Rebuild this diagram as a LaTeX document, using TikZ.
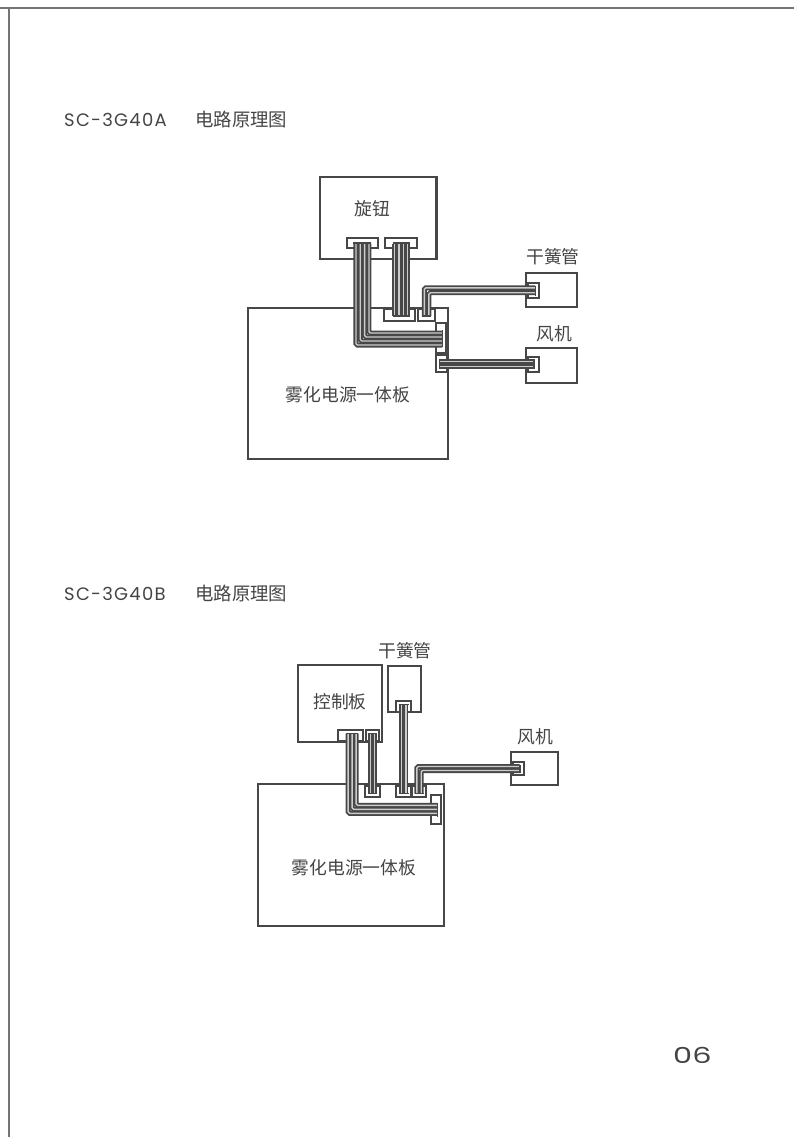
\documentclass[tikz,border=0pt]{standalone}
\usepackage{fontspec}
\usepackage{graphicx}
\setmainfont{Noto Sans CJK SC}
\newfontfamily\latinf[LetterSpace=7]{Poppins}
\newfontfamily\pagef{Poppins}
\usetikzlibrary{calc}
\definecolor{ink}{HTML}{474747}
\definecolor{frame}{HTML}{747474}
\definecolor{txt}{HTML}{444444}
\tikzset{
  boxs/.style={draw=ink,line width=2.4pt,fill=white,inner sep=0pt,outer sep=0pt},
  plug/.style={draw=ink,line width=2pt,fill=white,inner sep=0pt,outer sep=0pt},
  wire/.style={draw=ink,line width=1.8pt,double=gray!40,double distance=1.4pt,rounded corners=1.5pt},
  head/.style={draw=ink,line width=1.6pt},
  lbl/.style={font=\fontsize{17.8}{18}\selectfont,text=txt,inner sep=0pt},
  captxt/.style={font=\fontsize{18.4}{18}\selectfont,text=txt,inner sep=0pt,anchor=west},
}
\newcommand{\bx}[6][boxs]{%
  \pgfmathsetmacro{\bw}{#5-#3}\pgfmathsetmacro{\bh}{#6-#4}%
  \pgfmathsetmacro{\cxx}{(#3+#5)/2}\pgfmathsetmacro{\cyy}{(#4+#6)/2}%
  \node[#1,minimum width=\bw pt,minimum height=\bh pt] (#2) at (\cxx,\cyy) {};}
\begin{document}
\begin{tikzpicture}[x=1pt,y=-1pt]
\useasboundingbox (0,0) rectangle (794,1137);
% page frame
\coordinate (fa) at (0,8.5); \coordinate (fb) at (794,8.5);
\coordinate (fc) at (9,8.5); \coordinate (fd) at (9,1137);
\draw[frame,line width=2pt] (fa) -- (fb);
\draw[frame,line width=2pt] (fc) -- (fd);
% captions
\node[captxt] (capA) at (64,119) {\makebox[131pt][l]{\fontsize{18}{18}\latinf SC-3G40A}电路原理图};
\node[captxt] (capB) at (64,593) {\makebox[131pt][l]{\fontsize{18}{18}\latinf SC-3G40B}电路原理图};
\node[anchor=west,inner sep=0pt,text=txt,font=\fontsize{22}{22}\selectfont] (page) at (673,1055) {\scalebox{1.38}[1]{\pagef 06}};
% ---------- diagram A
\bx{knob}{320}{177}{436.5}{259}
\bx{boardA}{248}{308}{448}{459}
\bx{reedA}{526}{273}{577}{307}
\bx{fanA}{526}{348}{577}{383}
\bx[plug]{knobL}{346.7}{238}{378}{248}
\bx[plug]{knobR}{385}{238}{417}{248}
\bx[plug]{aB}{384}{309}{415}{321}
\bx[plug]{aC}{418}{309}{435}{321}
\bx[plug]{aR}{436}{323}{446}{353}
\bx[plug]{aS}{436}{355}{447}{372}
\bx[plug]{aReed}{528}{283}{539}{298}
\bx[plug]{aFan}{528}{357}{538.5}{372}
\foreach \dx/\dy in {-6.4/7,-2.1/3,2.2/-1,6.6/-5}
  \draw[wire] ($(knobL.center)+(\dx,0.5)$) |- ($(aR.center)+(1,\dy)$);
\foreach \dx in {-6.4,-2.1,2.2,6.6}
  \draw[wire] ($(knobR.center)+(\dx,0.5)$) -- ($(aB.center)+(\dx+1.5,1)$);
\foreach \dx/\dy in {-2.2/-2.7,2.4/2.2}
  \draw[wire] ($(aC.center)+(\dx,1)$) |- ($(aReed.center)+(1.5,\dy)$);
\foreach \dy in {-2.3,2.7}
  \draw[wire] ($(aS.center)+(-1.5,\dy)$) -- ($(aFan.center)+(0.5,\dy-1)$);
\draw[head] ($(knobL.center)+(-9,0)$) -- ($(knobL.center)+(8.4,0)$);
\draw[head] ($(knobR.center)+(-8.5,0)$) -- ($(knobR.center)+(8.5,0)$);
\draw[head] ($(aB.center)+(-6.8,1)$) -- ($(aB.center)+(10.5,1)$);
\draw[head] ($(aC.center)+(-4.5,1)$) -- ($(aC.center)+(4.5,1)$);
\draw[head] ($(aR.center)+(1.5,-8)$) -- ($(aR.center)+(1.5,9)$);
\draw[head] ($(aS.center)+(-2,-5)$) -- ($(aS.center)+(-2,5)$);
\draw[head] ($(aReed.center)+(2,-5)$) -- ($(aReed.center)+(2,5)$);
\draw[head] ($(aFan.center)+(1,-6)$) -- ($(aFan.center)+(1,4.5)$);
\node[lbl] (tKnob) at (372,209) {旋钮};
\node[lbl] (tReedA) at (553,257) {干簧管};
\node[lbl] (tFanA) at (554,334) {风机};
\node[lbl] (tBoardA) at (348,395) {雾化电源一体板};
% ---------- diagram B
\bx{ctrl}{298}{665}{382}{742}
\bx{reedB}{388}{666}{421}{712}
\bx{fanB}{511}{752}{558}{785}
\bx{boardB}{258}{784}{444}{926}
\bx[plug]{cL}{338}{730}{363}{741}
\bx[plug]{cR}{366}{730}{379}{741}
\bx[plug]{bA}{365}{786}{380}{797}
\bx[plug]{bB}{396}{786}{411}{797}
\bx[plug]{bC}{412}{786}{426}{797}
\bx[plug]{bR}{431}{795}{441}{824}
\bx[plug]{rP}{396}{701}{411}{712}
\bx[plug]{fP}{513}{762}{524}{775}
\foreach \dx/\dy in {-2.4/3.8,1.6/-0.2,5.6/-4.2}
  \draw[wire] ($(cL.center)+(\dx,-2)$) |- ($(bR.center)+(1,\dy)$);
\foreach \dx in {-2.2,2.2}
  \draw[wire] ($(cR.center)+(\dx,-2)$) -- ($(bA.center)+(\dx,2)$);
\foreach \dx in {-2.3,2.3}
  \draw[wire] ($(rP.center)+(\dx,-2)$) -- ($(bB.center)+(\dx,2)$);
\foreach \dx/\dy in {-2.2/-2,2.2/2}
  \draw[wire] ($(bC.center)+(\dx,2)$) |- ($(fP.center)+(1,\dy)$);
\draw[head] ($(cL.center)+(-4.5,-2)$) -- ($(cL.center)+(7.5,-2)$);
\draw[head] ($(cR.center)+(-4.5,-2)$) -- ($(cR.center)+(4.5,-2)$);
\draw[head] ($(rP.center)+(-5,-2)$) -- ($(rP.center)+(5,-2)$);
\draw[head] ($(bA.center)+(-4.5,2)$) -- ($(bA.center)+(4.5,2)$);
\draw[head] ($(bB.center)+(-5,2)$) -- ($(bB.center)+(5,2)$);
\draw[head] ($(bC.center)+(-4.5,2)$) -- ($(bC.center)+(4.5,2)$);
\draw[head] ($(bR.center)+(1.5,-7)$) -- ($(bR.center)+(1.5,7)$);
\draw[head] ($(fP.center)+(1.5,-4)$) -- ($(fP.center)+(1.5,4)$);
\node[lbl] (tCtrl) at (340,702) {控制板};
\node[lbl] (tReedB) at (405,651) {干簧管};
\node[lbl] (tFanB) at (535,737) {风机};
\node[lbl] (tBoardB) at (354,868) {雾化电源一体板};
\end{tikzpicture}
\end{document}
